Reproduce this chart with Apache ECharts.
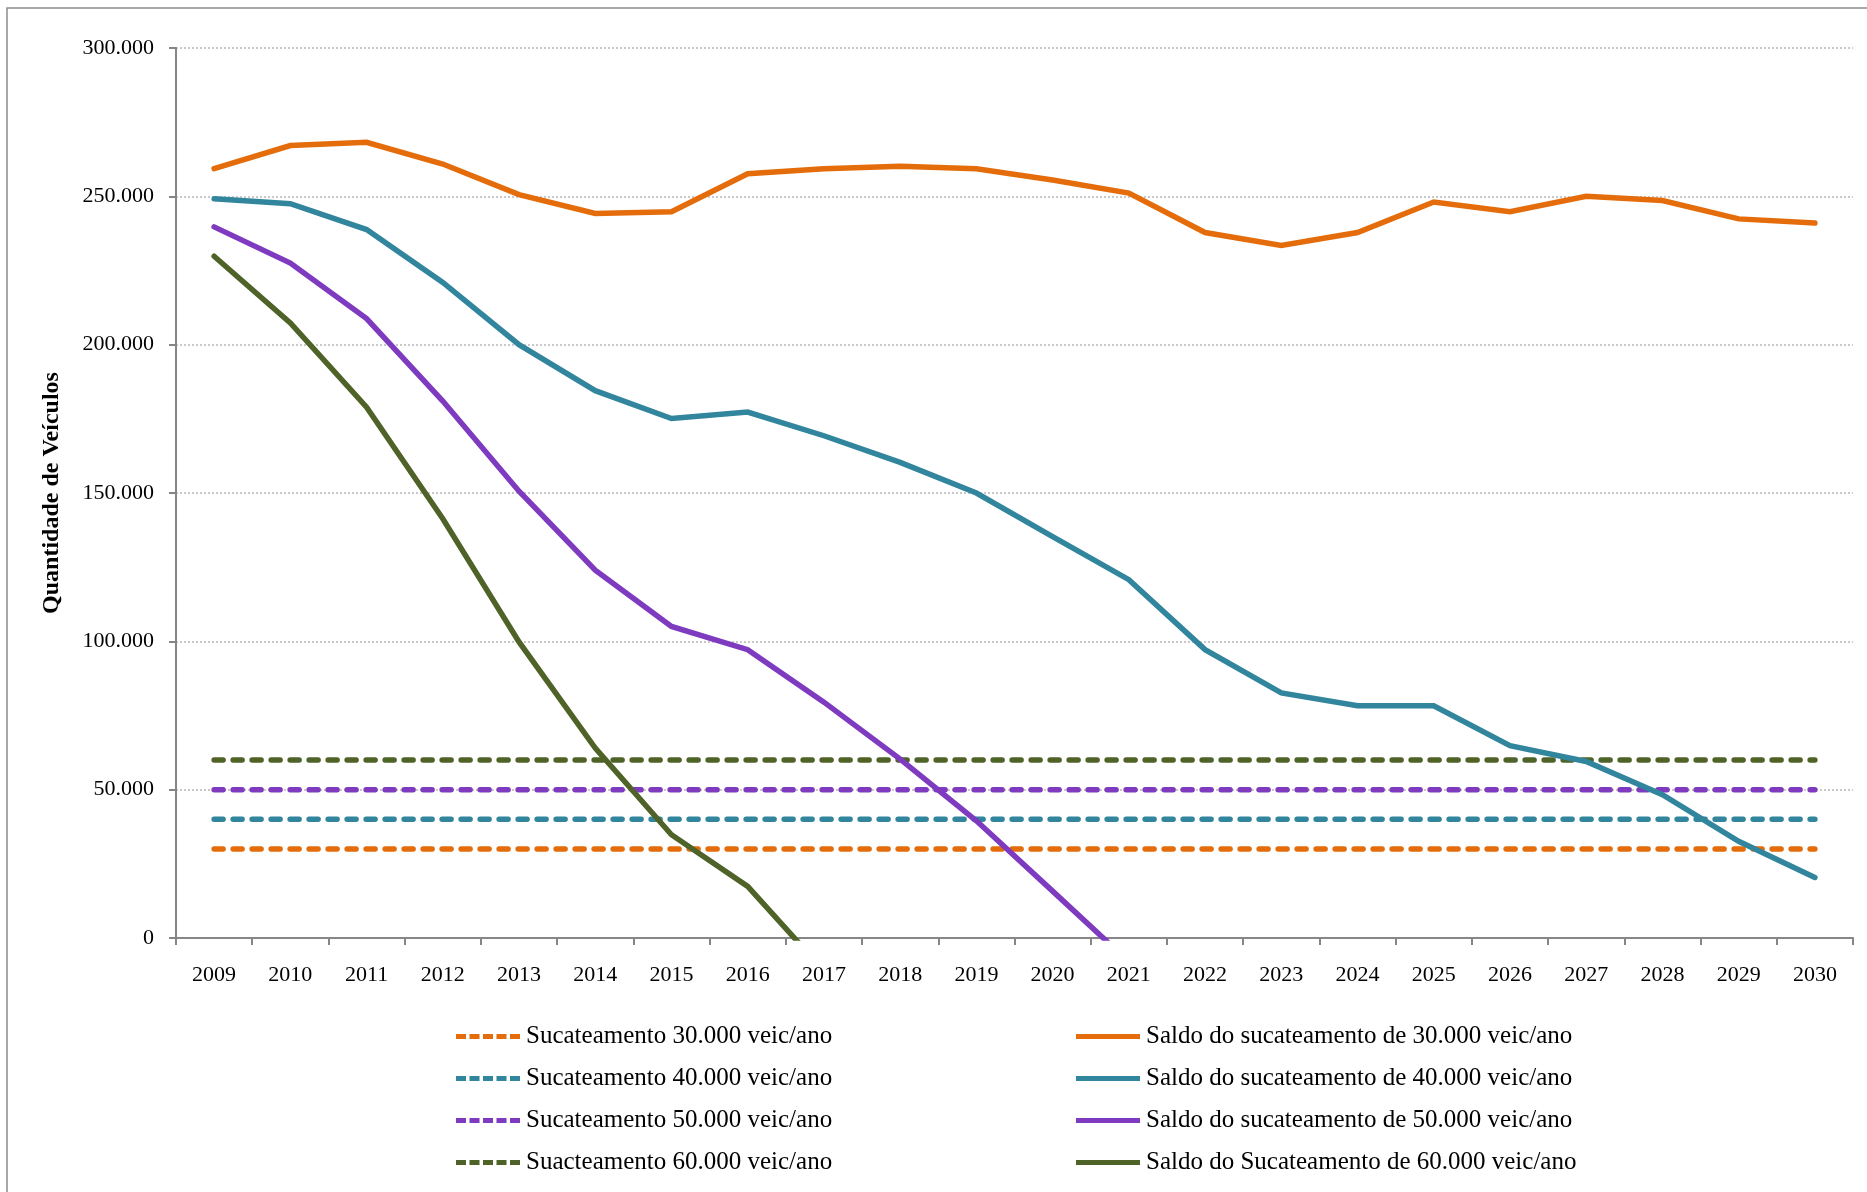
<!DOCTYPE html>
<html>
<head>
<meta charset="utf-8">
<script src="https://cdn.jsdelivr.net/npm/echarts@6/dist/echarts.min.js"></script>
<style>
  html, body { margin: 0; padding: 0; background: #fff; }
  #chart { width: 1867px; height: 1192px; }
</style>
</head>
<body>
<div id="chart"></div>
<script>
var anos = ['2009', '2010', '2011', '2012', '2013', '2014', '2015', '2016', '2017', '2018', '2019',
            '2020', '2021', '2022', '2023', '2024', '2025', '2026', '2027', '2028', '2029', '2030'];

// sucateamento anual constante
var sucat30 = [30000, 30000, 30000, 30000, 30000, 30000, 30000, 30000, 30000, 30000, 30000,
               30000, 30000, 30000, 30000, 30000, 30000, 30000, 30000, 30000, 30000, 30000];
var sucat40 = [40000, 40000, 40000, 40000, 40000, 40000, 40000, 40000, 40000, 40000, 40000,
               40000, 40000, 40000, 40000, 40000, 40000, 40000, 40000, 40000, 40000, 40000];
var sucat50 = [50000, 50000, 50000, 50000, 50000, 50000, 50000, 50000, 50000, 50000, 50000,
               50000, 50000, 50000, 50000, 50000, 50000, 50000, 50000, 50000, 50000, 50000];
var sucat60 = [60000, 60000, 60000, 60000, 60000, 60000, 60000, 60000, 60000, 60000, 60000,
               60000, 60000, 60000, 60000, 60000, 60000, 60000, 60000, 60000, 60000, 60000];

// saldos
var saldo30 = [259300, 267100, 268200, 260900, 250600, 244200, 244800, 257600, 259300, 260100, 259300,
               255500, 251100, 237800, 233400, 237800, 248100, 244800, 250000, 248600, 242400, 241000];
var saldo40 = [249200, 247500, 238800, 221000, 200000, 184500, 175100, 177300, 169300, 160300, 150000,
               135300, 120800, 97200, 82600, 78300, 78300, 64800, 59500, 48300, 32600, 20400];
var saldo50 = [239700, 227500, 208800, 181000, 150600, 124000, 105000, 97200, 79500, 60300, 39500,
               15800, -8000, null, null, null, null, null, null, null, null, null];
var saldo60 = [229800, 207300, 178900, 141300, 99800, 64000, 34800, 17400, -11000, null, null,
               null, null, null, null, null, null, null, null, null, null, null];

var cores = ['#E46C0A', '#31859C', '#7E3BC0', '#4F6228'];
var fonte = '"Liberation Serif", "Times New Roman", serif';

// icones da legenda
var iconeTrac = 'path://M0,0h10v5h-10zM13.5,0h10v5h-10zM27,0h10v5h-10zM40.5,0h10v5h-10zM54,0h10v5h-10z';
var iconeCont = 'path://M0,0h64v5h-64z';

function milhar(v) {
    return String(v).replace(/\B(?=(\d{3})+(?!\d))/g, '.');
}

var chart = echarts.init(document.getElementById('chart'));

function tracejada(nome, dados, cor) {
    return {
        name: nome, type: 'line', data: dados, symbol: 'none',
        lineStyle: { color: cor, width: 5.5, type: [9, 10], cap: 'round' },
        itemStyle: { color: cor }
    };
}
function continua(nome, dados, cor) {
    return {
        name: nome, type: 'line', data: dados, symbol: 'none',
        lineStyle: { color: cor, width: 5.5, cap: 'round', join: 'miter' },
        itemStyle: { color: cor }
    };
}

var nomesTrac = ['Sucateamento 30.000 veic/ano', 'Sucateamento 40.000 veic/ano',
                 'Sucateamento 50.000 veic/ano', 'Suacteamento 60.000 veic/ano'];
var nomesSaldo = ['Saldo do sucateamento de 30.000 veic/ano', 'Saldo do sucateamento de 40.000 veic/ano',
                  'Saldo do sucateamento de 50.000 veic/ano', 'Saldo do Sucateamento de 60.000 veic/ano'];

var legendaBase = {
    orient: 'vertical',
    top: 1019,
    itemWidth: 64,
    itemHeight: 5,
    itemGap: 17,
    textStyle: { fontFamily: fonte, fontSize: 25, color: '#000', padding: [0, 0, 0, 1], lineHeight: 24 }
};

chart.setOption({
    animation: false,
    backgroundColor: '#fff',
    graphic: [{
        type: 'rect',
        shape: { x: 7, y: 8, width: 1880, height: 1200 },
        style: { fill: 'none', stroke: '#8c8c8c', lineWidth: 1.5 },
        silent: true
    }],
    grid: { left: 176, right: 14, top: 48, bottom: 254 },
    legend: [
        Object.assign({ left: 451, icon: iconeTrac, data: nomesTrac }, legendaBase),
        Object.assign({ left: 1071, icon: iconeCont, data: nomesSaldo }, legendaBase)
    ],
    xAxis: {
        type: 'category',
        data: anos,
        boundaryGap: true,
        axisLine: { lineStyle: { color: '#868686', width: 2 } },
        axisTick: { show: true, length: 7, lineStyle: { color: '#868686', width: 2 } },
        axisLabel: { color: '#000', fontFamily: fonte, fontSize: 22, margin: 26, interval: 0 }
    },
    yAxis: {
        type: 'value',
        min: 0,
        max: 300000,
        interval: 50000,
        name: 'Quantidade de Veículos',
        nameLocation: 'middle',
        nameGap: 112,
        nameRotate: 90,
        nameTextStyle: { fontFamily: fonte, fontSize: 24, fontWeight: 'bold', color: '#000' },
        axisLine: { show: true, lineStyle: { color: '#868686', width: 2 } },
        axisTick: { show: true, length: 7, lineStyle: { color: '#868686', width: 2 } },
        axisLabel: {
            color: '#000', fontFamily: fonte, fontSize: 22, margin: 22,
            formatter: function (v) { return milhar(v); }
        },
        splitLine: { show: true, lineStyle: { color: '#b8b8b8', width: 1.5, type: [2, 2] } }
    },
    series: [
        tracejada(nomesTrac[0], sucat30, cores[0]),
        tracejada(nomesTrac[1], sucat40, cores[1]),
        tracejada(nomesTrac[2], sucat50, cores[2]),
        tracejada(nomesTrac[3], sucat60, cores[3]),
        continua(nomesSaldo[0], saldo30, cores[0]),
        continua(nomesSaldo[1], saldo40, cores[1]),
        continua(nomesSaldo[2], saldo50, cores[2]),
        continua(nomesSaldo[3], saldo60, cores[3])
    ]
});
</script>
</body>
</html>
